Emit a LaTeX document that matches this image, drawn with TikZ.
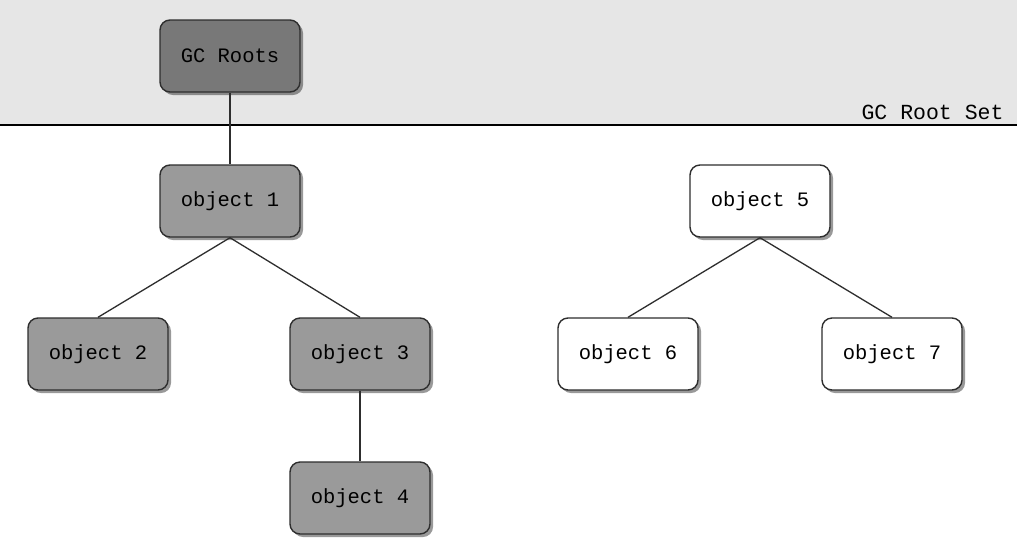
\documentclass[tikz,border=0pt]{standalone}
\usepackage{fontspec}
\setmonofont{Liberation Mono}
\usetikzlibrary{shadows}
\definecolor{bandgray}{HTML}{E6E6E6}
\definecolor{rootgray}{HTML}{787878}
\definecolor{objgray}{HTML}{9A9A9A}
\definecolor{edgegray}{HTML}{2E2E2E}
\tikzset{
  obj/.style={draw=edgegray, line width=1.4pt, rounded corners=10pt,
    minimum width=140pt, minimum height=72pt, inner sep=0pt,
    font=\ttfamily\fontsize{20.5}{24}\selectfont,
    drop shadow={shadow xshift=3pt, shadow yshift=-3pt, opacity=0.4, fill=black}},
  live/.style={obj, fill=objgray},
  root/.style={obj, fill=rootgray},
  dead/.style={obj, fill=white},
  link/.style={draw=edgegray, line width=1.3pt}
}
\begin{document}
\begin{tikzpicture}[x=1pt, y=-1pt]
\useasboundingbox (0,0) rectangle (1017,547);
\fill[white] (0,0) rectangle (1017,547);
\fill[bandgray] (0,0) rectangle (1017,125);
\draw[line width=1.4pt, black] (0,125) -- (1017,125);
\node[anchor=base east, font=\ttfamily\fontsize{21.5}{24}\selectfont] (setlabel) at (1007,119) {GC Root Set};

\node[root] (roots) at (230,56) {GC Roots};
\node[live] (o1) at (230,201) {object 1};
\node[live] (o2) at (98,354) {object 2};
\node[live] (o3) at (360,354) {object 3};
\node[live] (o4) at (360,498) {object 4};
\node[dead] (o5) at (760,201) {object 5};
\node[dead] (o6) at (628,354) {object 6};
\node[dead] (o7) at (892,354) {object 7};

\draw[link] (roots.south) -- (o1.north);
\draw[link] (o1.south) -- (o2.north);
\draw[link] (o1.south) -- (o3.north);
\draw[link] (o3.south) -- (o4.north);
\draw[link] (o5.south) -- (o6.north);
\draw[link] (o5.south) -- (o7.north);
\end{tikzpicture}
\end{document}
